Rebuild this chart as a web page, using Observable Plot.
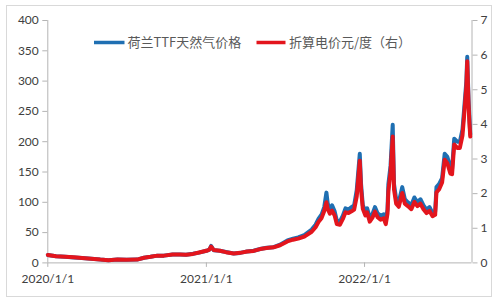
<!DOCTYPE html>
<html>
<head>
<meta charset="utf-8">
<script src="https://cdn.jsdelivr.net/npm/d3@7"></script>
<script src="https://cdn.jsdelivr.net/npm/@observablehq/plot@0.6"></script>
<style>
  body { margin: 0; background: #fff; }
  #chart { position: relative; width: 500px; height: 300px; }
</style>
</head>
<body>
<div id="chart"></div>
<script>
// Dates of observations
const dates = [
  "2020-01-01","2020-01-20","2020-02-10","2020-03-01","2020-03-20","2020-04-10","2020-05-01","2020-05-20",
  "2020-06-10","2020-07-01","2020-07-25","2020-08-10","2020-08-25","2020-09-10","2020-09-25","2020-10-15",
  "2020-11-01","2020-11-15","2020-12-01","2020-12-15","2021-01-01","2021-01-08","2021-01-12","2021-01-18",
  "2021-02-01","2021-02-15","2021-03-05","2021-03-20","2021-04-05","2021-04-20","2021-05-05","2021-05-20",
  "2021-06-05","2021-06-20","2021-07-07","2021-07-20","2021-08-01","2021-08-15","2021-09-01","2021-09-10",
  "2021-09-17","2021-09-24","2021-09-30","2021-10-05","2021-10-08","2021-10-13","2021-10-18","2021-10-24",
  "2021-10-29","2021-11-05","2021-11-12","2021-11-18","2021-11-25","2021-12-02","2021-12-08","2021-12-14",
  "2021-12-21","2021-12-24","2021-12-28","2022-01-03","2022-01-07","2022-01-13","2022-01-19","2022-01-25",
  "2022-01-31","2022-02-07","2022-02-14","2022-02-19","2022-02-23","2022-02-25","2022-03-02","2022-03-07",
  "2022-03-10","2022-03-15","2022-03-21","2022-03-29","2022-04-04","2022-04-11","2022-04-19","2022-04-26",
  "2022-05-03","2022-05-10","2022-05-17","2022-05-24","2022-05-31","2022-06-07","2022-06-13","2022-06-16",
  "2022-06-22","2022-06-29","2022-07-05","2022-07-11","2022-07-18","2022-07-22","2022-07-27","2022-08-03",
  "2022-08-09","2022-08-15","2022-08-19","2022-08-24","2022-08-26","2022-08-29","2022-08-31","2022-09-02"
];
// 荷兰TTF天然气价格 (left axis)
const ttfPrice = [
  13,11,10,9,8,7,5.5,4.5,
  5.5,5,5.5,8.5,10,12,12,14,
  14,13.5,15,17,20,22,28,21,
  20,18,15.5,16.5,19,20,23,25,
  26,30,37,40,42,46,55,63,
  73,80,92,116,98,88,95,85,
  70,68,78,90,88,92,95,120,
  180,130,95,85,90,75,80,92,
  82,78,80,70,88,130,160,228,
  130,105,100,125,105,100,95,108,
  100,105,95,88,92,82,85,125,
  130,140,180,175,158,155,205,200,
  200,220,255,300,340,270,240,212
];
// 折算电价元/度（右） (right axis)
const powerPrice = [
  0.23,0.19,0.175,0.16,0.14,0.12,0.095,0.08,
  0.095,0.09,0.095,0.15,0.175,0.21,0.21,0.245,
  0.245,0.235,0.26,0.3,0.35,0.385,0.47,0.37,
  0.35,0.31,0.27,0.29,0.33,0.345,0.4,0.43,
  0.45,0.51,0.62,0.67,0.7,0.76,0.9,1.03,
  1.19,1.3,1.5,1.75,1.56,1.42,1.51,1.37,
  1.12,1.1,1.27,1.46,1.44,1.49,1.54,1.92,
  2.95,2.12,1.56,1.37,1.46,1.19,1.3,1.48,
  1.32,1.25,1.29,1.12,1.42,2.07,2.62,3.65,
  2.12,1.71,1.62,2.02,1.71,1.64,1.55,1.76,
  1.64,1.71,1.55,1.44,1.5,1.35,1.39,2.04,
  2.12,2.32,2.98,2.88,2.58,2.56,3.42,3.32,
  3.32,3.68,4.28,5.1,5.82,4.6,4.05,3.65
];
const leftTicks = [0,50,100,150,200,250,300,350,400];
const rightTicks = [0,1,2,3,4,5,6,7];
const xTickDates = ["2020-01-01","2021-01-01","2022-01-01"];
const xTickLabels = ["2020/1/1","2021/1/1","2022/1/1"];
const seriesNames = ["荷兰TTF天然气价格","折算电价元/度（右）"];
const seriesColors = ["#1f6fb2","#e3151d"];

const data = dates.map((d, i) => ({date: new Date(d), ttf: ttfPrice[i], power: powerPrice[i]}));
const k = 400 / 7;
const xStart = new Date("2020-01-01");
const xEnd = new Date("2022-09-06");
const axisColor = "#b4b4b4";

const chart = Plot.plot({
  width: 500,
  height: 300,
  marginLeft: 47.3,
  marginRight: 28.5,
  marginTop: 20,
  marginBottom: 37.6,
  style: {fontFamily: "Lato, 'Noto Sans CJK SC', sans-serif", fontSize: "12px", color: "#404040", background: "transparent"},
  x: {type: "utc", domain: [xStart, xEnd]},
  y: {domain: [0, 400]},
  marks: [
    Plot.ruleY([0], {stroke: axisColor}),
    Plot.ruleX([xStart], {stroke: axisColor}),
    Plot.ruleX([xEnd], {stroke: axisColor}),
    Plot.axisY(leftTicks, {anchor: "left", tickSize: 5, tickPadding: 4, label: null, stroke: axisColor, fill: "#404040"}),
    Plot.axisY(rightTicks.map(v => v * k), {anchor: "right", tickSize: 5, tickPadding: 3.5, label: null,
      tickFormat: d => String(Math.round(d / k)), stroke: axisColor, fill: "#404040"}),
    Plot.axisX(xTickDates.map(d => new Date(d)), {anchor: "bottom", tickSize: 4.5, tickPadding: 7.5, label: null,
      tickFormat: (d, i) => xTickLabels[i], stroke: axisColor, fill: "#404040"}),
    Plot.lineY(data, {x: "date", y: "ttf", stroke: seriesColors[0], strokeWidth: 4, strokeLinejoin: "round"}),
    Plot.lineY(data, {x: "date", y: d => d.power * k, stroke: seriesColors[1], strokeWidth: 4, strokeLinejoin: "round"})
  ]
});

const svg = d3.select(chart);
svg.insert("rect", ":first-child")
  .attr("x", 6.5).attr("y", 5.5).attr("width", 485).attr("height", 291)
  .attr("fill", "#fff").attr("stroke", "#d9d9d9");

const legend = svg.append("g")
  .attr("font-family", "'Noto Sans CJK SC', Lato, sans-serif")
  .attr("font-size", 13).attr("fill", "#595959").attr("text-anchor", "start");
const legendPos = [{x1: 94, x2: 124.5, tx: 127.5}, {x1: 256.5, x2: 285.5, tx: 289}];
seriesNames.forEach((name, i) => {
  const p = legendPos[i];
  legend.append("line").attr("x1", p.x1).attr("x2", p.x2).attr("y1", 42.5).attr("y2", 42.5)
    .attr("stroke", seriesColors[i]).attr("stroke-width", 3.5);
  legend.append("text").attr("x", p.tx).attr("y", 42.5).attr("dy", "0.35em")
    .attr("text-anchor", "start").text(name);
});

document.getElementById("chart").appendChild(chart);
</script>
</body>
</html>
